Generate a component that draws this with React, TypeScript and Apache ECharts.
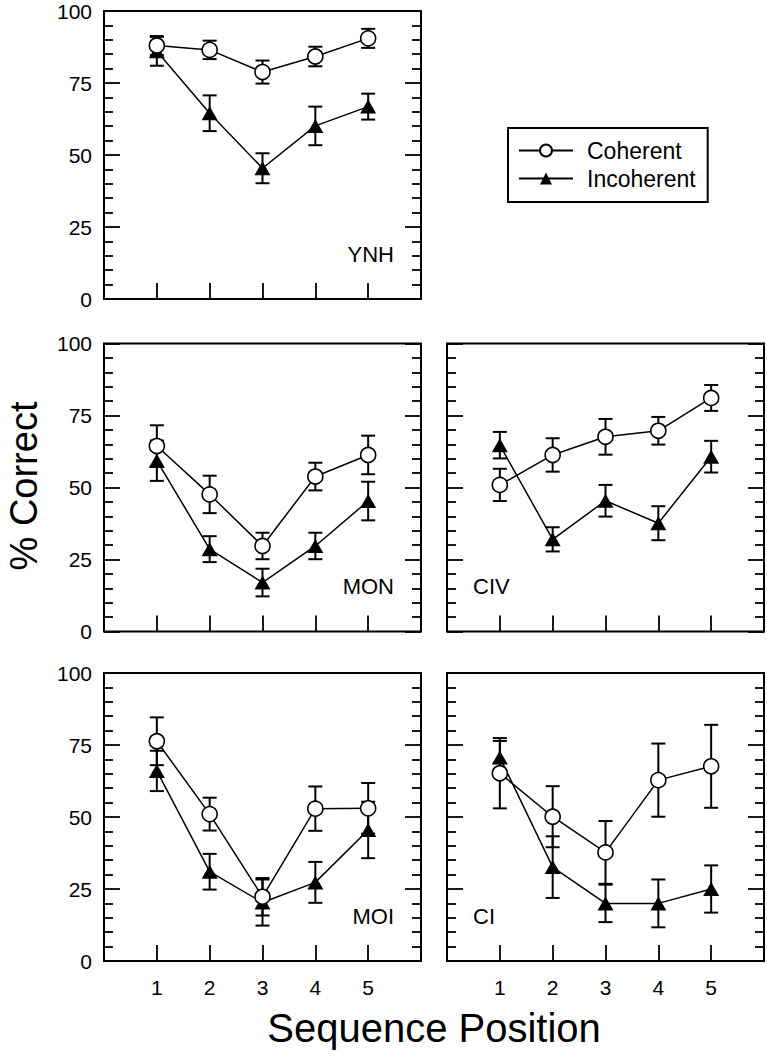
import React, { useEffect, useRef } from "react";
import * as echarts from "echarts";

const positions = [1, 2, 3, 4, 5];
const xTickValues = [1, 2, 3, 4, 5];
const yTickStep = 25;

const panelNames = ["YNH", "MON", "CIV", "MOI", "CI"];
const seriesNames = ["Coherent", "Incoherent"];

// YNH
const ynhCoherent = [88, 86.5, 78.8, 84.2, 90.5];
const ynhCoherentErr = [3.3, 3.2, 4, 3.4, 3.3];
const ynhIncoherent = [86, 64.5, 45.4, 60.1, 66.8];
const ynhIncoherentErr = [5, 6.2, 5.2, 6.7, 4.5];
// MON
const monCoherent = [64.4, 47.6, 29.7, 53.8, 61.3];
const monCoherentErr = [7.2, 6.5, 4.6, 4.8, 6.7];
const monIncoherent = [59.3, 28.6, 17, 29.7, 45.3];
const monIncoherentErr = [7, 4.5, 4.8, 4.6, 6.7];
// CIV
const civCoherent = [50.9, 61.3, 67.6, 69.7, 81.1];
const civCoherentErr = [5.6, 5.8, 6.2, 4.8, 4.5];
const civIncoherent = [64.7, 32, 45.4, 37.6, 60.7];
const civIncoherentErr = [4.6, 4.2, 5.5, 5.9, 5.5];
// MOI
const moiCoherent = [76.3, 51, 22.3, 52.9, 53];
const moiCoherentErr = [8.3, 5.7, 6.5, 7.7, 8.8];
const moiIncoherent = [66, 31, 20.3, 27.3, 45.5];
const moiIncoherentErr = [7, 6.2, 8, 7.1, 9.8];
// CI
const ciCoherent = [65.2, 50.1, 37.7, 62.8, 67.6];
const ciCoherentErr = [12.2, 10.6, 10.9, 12.7, 14.4];
const ciIncoherent = [70.7, 32.6, 20, 20, 25];
const ciIncoherentErr = [5.7, 10.7, 6.5, 8.3, 8.2];

const panelData = [
  [ynhCoherent, ynhCoherentErr, ynhIncoherent, ynhIncoherentErr],
  [monCoherent, monCoherentErr, monIncoherent, monIncoherentErr],
  [civCoherent, civCoherentErr, civIncoherent, civIncoherentErr],
  [moiCoherent, moiCoherentErr, moiIncoherent, moiIncoherentErr],
  [ciCoherent, ciCoherentErr, ciIncoherent, ciIncoherentErr],
];

const FONT = '"Liberation Sans", Arial, Helvetica, sans-serif';
const BLACK = "#000";

const gridBoxes = [
  { left: 104, top: 11 },
  { left: 104, top: 343.5 },
  { left: 447, top: 343.5 },
  { left: 104, top: 673 },
  { left: 447, top: 673 },
];
const showYLabels = [true, true, false, true, false];
const showXLabels = [false, false, false, true, true];
const labelRight = [true, true, false, true, false];

function buildOption() {
  const grid = gridBoxes.map((g) => ({
    left: g.left,
    top: g.top,
    width: 317,
    height: 288,
    show: true,
    borderColor: BLACK,
    borderWidth: 2,
    backgroundColor: "transparent",
  }));

  const tickLine = { color: BLACK, width: 1.8 };

  const xAxis = gridBoxes.map((_, i) => ({
    type: "value",
    gridIndex: i,
    min: 0,
    max: 6,
    interval: 1,
    axisLine: { show: false },
    splitLine: { show: false },
    axisTick: { show: true, inside: true, length: 16, lineStyle: tickLine, customValues: xTickValues },
    axisLabel: {
      show: showXLabels[i],
      customValues: xTickValues,
      formatter: (v: number) => (v >= 1 && v <= 5 ? String(v) : ""),
      fontSize: 21,
      color: BLACK,
      fontFamily: FONT,
      margin: 16,
    },
  }));

  const yAxis: any[] = [];
  gridBoxes.forEach((_, i) => {
    ["left", "right"].forEach((pos) => {
      yAxis.push({
        type: "value",
        gridIndex: i,
        position: pos,
        min: 0,
        max: 100,
        interval: yTickStep,
        axisLine: { show: false },
        splitLine: { show: false },
        axisTick: { show: true, inside: true, length: 16, lineStyle: tickLine },
        minorTick: { show: true, splitNumber: 5, length: 9, lineStyle: tickLine },
        axisLabel: {
          show: pos === "left" && showYLabels[i],
          fontSize: 21,
          color: BLACK,
          fontFamily: FONT,
          margin: 12,
        },
      });
    });
  });

  const errorRender = (params: any, api: any) => {
    const x = api.value(0);
    const lo = api.value(1);
    const hi = api.value(2);
    const top = api.coord([x, hi]);
    const bot = api.coord([x, lo]);
    const hw = 7;
    const st = { stroke: BLACK, lineWidth: 2 };
    return {
      type: "group",
      children: [
        { type: "line", shape: { x1: top[0], y1: top[1], x2: bot[0], y2: bot[1] }, style: st },
        { type: "line", shape: { x1: top[0] - hw, y1: top[1], x2: top[0] + hw, y2: top[1] }, style: st },
        { type: "line", shape: { x1: bot[0] - hw, y1: bot[1], x2: bot[0] + hw, y2: bot[1] }, style: st },
      ],
    };
  };

  const series: any[] = [];
  panelData.forEach(([coh, cohErr, inc, incErr], i) => {
    const yIdx = i * 2;
    [
      [coh, cohErr],
      [inc, incErr],
    ].forEach(([vals, errs]) => {
      series.push({
        type: "custom",
        xAxisIndex: i,
        yAxisIndex: yIdx,
        renderItem: errorRender,
        encode: { x: 0, y: [1, 2] },
        data: positions.map((p, j) => [p, vals[j] - errs[j], vals[j] + errs[j]]),
        z: 1,
        silent: true,
      });
    });
    series.push({
      type: "line",
      name: seriesNames[1],
      xAxisIndex: i,
      yAxisIndex: yIdx,
      data: positions.map((p, j) => [p, inc[j]]),
      symbol: "triangle",
      symbolSize: [16, 14],
      itemStyle: { color: BLACK, borderColor: BLACK, borderWidth: 0 },
      lineStyle: { color: BLACK, width: 1.5 },
      z: 3,
      silent: true,
    });
    series.push({
      type: "line",
      name: seriesNames[0],
      xAxisIndex: i,
      yAxisIndex: yIdx,
      data: positions.map((p, j) => [p, coh[j]]),
      symbol: "circle",
      symbolSize: 15,
      showAllSymbol: true,
      itemStyle: { color: "#fff", borderColor: BLACK, borderWidth: 1.6 },
      lineStyle: { color: BLACK, width: 1.5 },
      z: 4,
      silent: true,
    });
  });

  const labelText = (i: number) => {
    const g = gridBoxes[i];
    const right = labelRight[i];
    return {
      type: "text",
      left: right ? undefined : g.left + 26,
      right: right ? 767 - (g.left + 317 - 27) : undefined,
      top: g.top + 288 - 56,
      style: { text: panelNames[i], font: `22px ${FONT}`, fill: BLACK },
      silent: true,
    };
  };

  return {
    animation: false,
    backgroundColor: "#fff",
    grid,
    xAxis,
    yAxis,
    series,
    legend: {
      data: seriesNames,
      orient: "vertical",
      left: 508,
      top: 128,
      borderColor: BLACK,
      borderWidth: 2,
      borderRadius: 0,
      padding: [11, 12, 12, 10],
      itemWidth: 54,
      itemHeight: 15,
      itemGap: 5,
      selectedMode: false,
      textStyle: { fontSize: 23, color: BLACK, fontFamily: FONT, padding: [0, 0, 0, 9] },
    },
    graphic: [
      ...panelNames.map((_, i) => labelText(i)),
      {
        type: "text",
        x: 24,
        y: 486,
        rotation: Math.PI / 2,
        style: {
          text: "% Correct",
          font: `38px ${FONT}`,
          fill: BLACK,
          align: "center",
          verticalAlign: "middle",
        },
        silent: true,
      },
      {
        type: "text",
        x: 434,
        y: 1028,
        style: {
          text: "Sequence Position",
          font: `40px ${FONT}`,
          fill: BLACK,
          align: "center",
          verticalAlign: "middle",
        },
        silent: true,
      },
    ],
  };
}

export default function App() {
  const ref = useRef<HTMLDivElement>(null);
  useEffect(() => {
    document.body.style.margin = "0";
    if (!ref.current) return;
    const chart = echarts.init(ref.current, undefined, { renderer: "svg" });
    chart.setOption(buildOption() as any);
    return () => chart.dispose();
  }, []);
  return <div ref={ref} style={{ width: 767, height: 1059 }} />;
}
